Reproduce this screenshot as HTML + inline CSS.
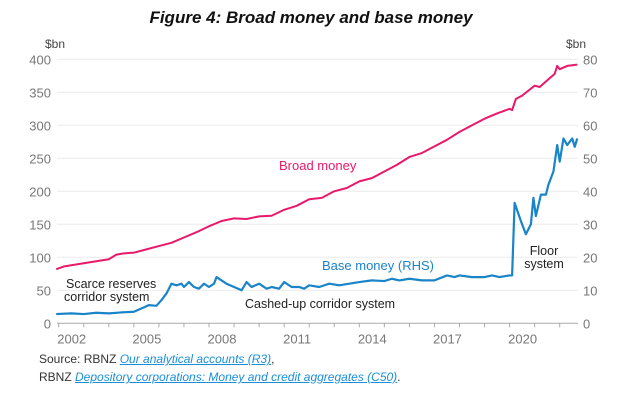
<!DOCTYPE html>
<html><head><meta charset="utf-8"><style>
body{margin:0;background:#fff;width:622px;height:408px;overflow:hidden;font-family:"Liberation Sans",sans-serif}
svg{display:block}
.src{position:absolute;left:39px;font-size:12px;color:#333}
.src a{color:#1a8fd8;font-style:italic;text-decoration:underline}
</style></head><body>
<svg id="c" width="622" height="408">
<text x="311" y="23" text-anchor="middle" font-size="17" font-weight="bold" font-style="italic" fill="#111">Figure 4: Broad money and base money</text>
<g id="grid"></g><g id="axes"></g><g id="series"></g>
<text x="45" y="48" font-size="12" fill="#444">$bn</text>
<text x="566" y="48" font-size="12" fill="#444">$bn</text>
<text x="279" y="170" font-size="13" fill="#e8196a">Broad money</text>
<text x="322" y="270" font-size="13" fill="#1a84c9">Base money (RHS)</text>
<text x="66" y="288" font-size="12.5" fill="#222">Scarce reserves</text>
<text x="64" y="301" font-size="12.5" fill="#222">corridor system</text>
<text x="245" y="308" font-size="12.5" fill="#222">Cashed-up corridor system</text>
<text x="544" y="255" text-anchor="middle" font-size="12.5" fill="#222">Floor</text>
<text x="544" y="268" text-anchor="middle" font-size="12.5" fill="#222">system</text>
</svg>
<div class="src" style="top:352px">Source: RBNZ <a>Our analytical accounts (R3)</a>,</div>
<div class="src" style="top:370px">RBNZ <a>Depository corporations: Money and credit aggregates (C50)</a>.</div>
<script>
const leftTicks=[0,50,100,150,200,250,300,350,400];
const rightTicks=[0,10,20,30,40,50,60,70,80];
const yearLabels=[2002,2005,2008,2011,2014,2017,2020];
const broadT=[2001.9,2002.2,2002.5,2003,2003.5,2004,2004.3,2004.6,2005,2005.5,2006,2006.5,2007,2007.5,2008,2008.5,2009,2009.5,2010,2010.5,2011,2011.5,2012,2012.5,2013,2013.5,2014,2014.5,2015,2015.5,2016,2016.5,2017,2017.5,2018,2018.5,2019,2019.5,2020,2020.1,2020.25,2020.5,2021,2021.2,2021.5,2021.8,2021.9,2022,2022.3,2022.7];
const broadV=[82,86,88,91,94,97,104,106,107,112,117,122,130,138,147,155,159,158,162,163,172,178,188,190,200,205,215,220,230,240,252,258,268,278,290,300,310,318,325,323,340,345,360,358,368,378,390,385,390,392];
const baseT=[2001.9,2002.5,2003,2003.5,2004,2004.5,2005,2005.3,2005.6,2005.9,2006.1,2006.3,2006.5,2006.7,2006.9,2007,2007.2,2007.4,2007.6,2007.8,2008,2008.2,2008.3,2008.5,2008.7,2009,2009.3,2009.5,2009.7,2010,2010.3,2010.5,2010.8,2011,2011.3,2011.6,2011.8,2012,2012.4,2012.8,2013.2,2013.6,2014,2014.5,2015,2015.3,2015.6,2016,2016.5,2017,2017.5,2017.8,2018,2018.5,2019,2019.3,2019.6,2020,2020.1,2020.2,2020.45,2020.65,2020.85,2020.95,2021.05,2021.25,2021.45,2021.55,2021.75,2021.9,2022,2022.15,2022.3,2022.5,2022.6,2022.7];
const baseV=[2.8,3,2.8,3.2,3,3.3,3.5,4.5,5.5,5.3,7,9,12,11.5,12,11,12.5,11,10.5,12,11,12,14,13,12,11,10,12.5,11,12,10.5,11,10.5,12.5,11,11,10.5,11.5,11,12,11.5,12,12.5,13,12.8,13.5,13,13.5,13,13,14.5,14,14.5,14,14,14.5,14,14.5,14.5,36.5,31,27,30,38,32.5,39,39,42,46,54,49,56,54,56,53.5,56];
const NS="http://www.w3.org/2000/svg";
const X0=58.7,PX=25.05,Y0=323.3,YH=264;
const x=t=>X0+(t-2002)*PX;
const yL=v=>Y0-v/400*YH;
const yR=v=>Y0-v/80*YH;
function mk(tag,attrs,parent){const e=document.createElementNS(NS,tag);for(const k in attrs)e.setAttribute(k,attrs[k]);parent.appendChild(e);return e;}
const grid=document.getElementById('grid'),axes=document.getElementById('axes'),ser=document.getElementById('series');
leftTicks.forEach((v,i)=>{
 if(v>0){const g=mk('line',{x1:57,x2:578,y1:yL(v),y2:yL(v),stroke:'#ececec','stroke-width':1},grid);
 
 }
 const t=mk('text',{x:51,y:yL(v)+5,'text-anchor':'end','font-size':13,fill:'#777'},axes);t.textContent=v;
 
 
});
rightTicks.forEach(v=>{
 const t=mk('text',{x:583,y:yR(v)+5,'font-size':13,fill:'#777'},axes);t.textContent=v;
 
 
});
const ax=mk('line',{x1:57,x2:578,y1:Y0,y2:Y0,stroke:'#aaa','stroke-width':1},axes);


for(let yr=2002;yr<=2022;yr++){
 const tk=mk('line',{x1:x(yr),x2:x(yr),y1:Y0,y2:Y0+4,stroke:'#aaa'},axes);
 
 
}
yearLabels.forEach(yr=>{
 const t=mk('text',{x:x(yr)+13,y:Y0+20,'text-anchor':'middle','font-size':13,fill:'#777'},axes);t.textContent=yr;
 
 
});
const bp=mk('polyline',{points:broadT.map((t,i)=>x(t)+','+yL(broadV[i])).join(' '),fill:'none',stroke:'#e8196a','stroke-width':2,'stroke-linejoin':'round'},ser);


const bs=mk('polyline',{points:baseT.map((t,i)=>x(t)+','+yR(baseV[i])).join(' '),fill:'none',stroke:'#1a84c9','stroke-width':2.2,'stroke-linejoin':'round'},ser);


</script>
</body></html>
